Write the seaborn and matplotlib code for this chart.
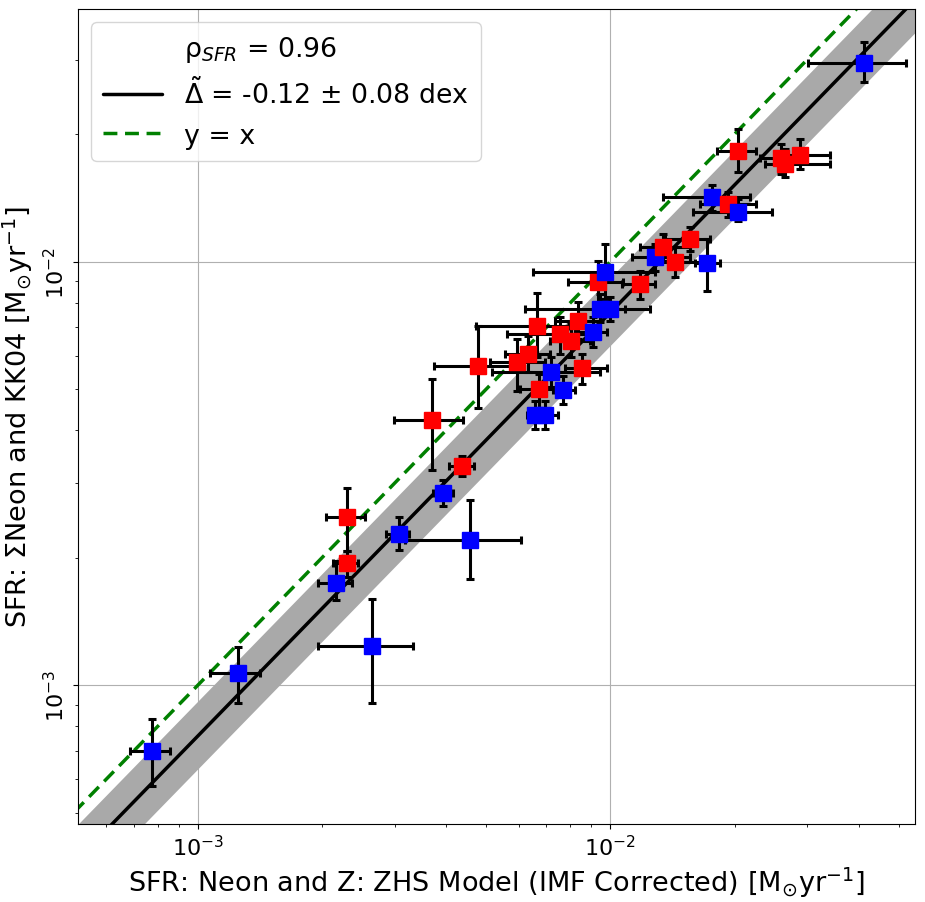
import numpy as np
import pandas as pd
import matplotlib
matplotlib.use("Agg")
import matplotlib.pyplot as plt
import matplotlib.transforms as mtransforms
import seaborn as sns
from matplotlib.lines import Line2D

# ---- data: blue sample ----
blue_x = [7.74e-4, 1.25e-3, 2.64e-3, 2.16e-3, 3.07e-3, 4.56e-3, 3.92e-3, 6.56e-3, 6.93e-3,
          7.66e-3, 7.17e-3, 9.06e-3, 9.42e-3, 9.96e-3, 9.69e-3, 1.28e-2, 1.711e-2, 1.76e-2,
          2.034e-2, 4.11e-2]
blue_xlo = [6.84e-4, 1.069e-3, 1.95e-3, 1.95e-3, 2.85e-3, 3.17e-3, 3.71e-3, 6.27e-3, 6.56e-3,
            7.25e-3, 5.16e-3, 8.19e-3, 6.2e-3, 9.16e-3, 6.48e-3, 1.126e-2, 1.60e-2, 1.339e-2,
            1.583e-2, 3.01e-2]
blue_xhi = [8.56e-4, 1.413e-3, 3.32e-3, 2.36e-3, 3.25e-3, 6.06e-3, 4.15e-3, 7.05e-3, 7.45e-3,
            8.19e-3, 9.42e-3, 9.80e-3, 1.245e-2, 1.083e-2, 1.28e-2, 1.556e-2, 1.84e-2, 2.175e-2,
            2.459e-2, 5.22e-2]
blue_y = [6.98e-4, 1.07e-3, 1.24e-3, 1.74e-3, 2.27e-3, 2.20e-3, 2.84e-3, 4.34e-3, 4.34e-3,
          4.98e-3, 5.49e-3, 6.82e-3, 7.73e-3, 7.73e-3, 9.46e-3, 1.026e-2, 9.93e-3, 1.422e-2,
          1.31e-2, 2.95e-2]
blue_ylo = [5.77e-4, 9.07e-4, 9.07e-4, 1.59e-3, 2.08e-3, 1.78e-3, 2.65e-3, 4.03e-3, 4.03e-3,
            4.61e-3, 5.06e-3, 6.29e-3, 7.20e-3, 7.24e-3, 8.17e-3, 9.51e-3, 8.53e-3, 1.318e-2,
            1.248e-2, 2.66e-2]
blue_yhi = [8.31e-4, 1.23e-3, 1.60e-3, 1.96e-3, 2.49e-3, 2.74e-3, 3.05e-3, 4.69e-3, 4.69e-3,
            5.37e-3, 5.96e-3, 7.40e-3, 8.39e-3, 8.25e-3, 1.101e-2, 1.101e-2, 1.131e-2, 1.518e-2,
            1.406e-2, 3.30e-2]

# ---- data: red sample ----
red_x = [2.30e-3, 2.30e-3, 3.69e-3, 4.36e-3, 4.77e-3, 5.93e-3, 6.31e-3, 6.63e-3, 6.70e-3,
         7.54e-3, 8.01e-3, 8.33e-3, 8.52e-3, 9.32e-3, 1.178e-2, 1.339e-2, 1.431e-2, 1.556e-2,
         1.924e-2, 2.034e-2, 2.585e-2, 2.658e-2, 2.875e-2]
red_xlo = [2.12e-3, 2.04e-3, 2.99e-3, 4.06e-3, 3.73e-3, 5.10e-3, 5.55e-3, 4.72e-3, 6.03e-3,
           5.61e-3, 7.13e-3, 7.33e-3, 7.75e-3, 7.88e-3, 1.065e-2, 1.178e-2, 1.28e-2, 1.354e-2,
           1.645e-2, 1.809e-2, 2.30e-2, 2.365e-2, 2.571e-2]
red_xhi = [2.44e-3, 2.54e-3, 4.39e-3, 4.66e-3, 5.93e-3, 6.93e-3, 7.13e-3, 7.97e-3, 7.54e-3,
           9.16e-3, 8.91e-3, 9.42e-3, 9.80e-3, 1.071e-2, 1.28e-2, 1.556e-2, 1.645e-2, 1.74e-2,
           2.249e-2, 2.249e-2, 2.957e-2, 3.40e-2, 3.40e-2]
red_y = [1.94e-3, 2.49e-3, 4.23e-3, 3.29e-3, 5.67e-3, 5.79e-3, 6.05e-3, 7.05e-3, 5.00e-3,
         6.75e-3, 6.50e-3, 7.24e-3, 5.61e-3, 8.95e-3, 8.86e-3, 1.083e-2, 9.98e-3, 1.131e-2,
         1.368e-2, 1.826e-2, 1.758e-2, 1.701e-2, 1.786e-2]
red_ylo = [1.80e-3, 2.07e-3, 3.22e-3, 3.12e-3, 4.51e-3, 4.95e-3, 5.49e-3, 5.96e-3, 4.49e-3,
           6.05e-3, 5.96e-3, 6.57e-3, 5.14e-3, 7.94e-3, 8.17e-3, 1.004e-2, 9.20e-3, 1.06e-2,
           1.275e-2, 1.629e-2, 1.612e-2, 1.585e-2, 1.656e-2]
red_yhi = [2.07e-3, 2.92e-3, 5.28e-3, 3.48e-3, 7.05e-3, 6.57e-3, 6.68e-3, 8.44e-3, 5.43e-3,
           7.40e-3, 7.13e-3, 8.03e-3, 6.05e-3, 1.004e-2, 9.51e-3, 1.163e-2, 1.083e-2, 1.208e-2,
           1.461e-2, 2.058e-2, 1.897e-2, 1.846e-2, 1.949e-2]

rho_sfr = 0.96
offset_dex = -0.12
scatter_dex = 0.08
x_limits = [5.12e-4, 5.48e-2]
y_limits = [4.70e-4, 3.95e-2]

# ---- build table ----
df = pd.concat([
    pd.DataFrame({"x": blue_x, "xlo": blue_xlo, "xhi": blue_xhi,
                  "y": blue_y, "ylo": blue_ylo, "yhi": blue_yhi, "group": "blue"}),
    pd.DataFrame({"x": red_x, "xlo": red_xlo, "xhi": red_xhi,
                  "y": red_y, "ylo": red_ylo, "yhi": red_yhi, "group": "red"}),
], ignore_index=True)
df = df.sort_values("x", kind="stable").reset_index(drop=True)

sns.set_style("ticks")
plt.rcParams['font.family'] = ['DejaVu Sans']
plt.rcParams['mathtext.fontset'] = 'dejavusans'
for k in ["text.color", "axes.labelcolor", "xtick.color", "ytick.color", "axes.edgecolor"]:
    plt.rcParams[k] = "black"

fig = plt.figure(figsize=(9.25, 9.03), dpi=100)
ax = fig.add_axes([0.0843, 0.0864, 0.9050, 0.9025])
ax.set_xscale("log")
ax.set_yscale("log")

xx = np.logspace(np.log10(x_limits[0]) - 0.2, np.log10(x_limits[1]) + 0.2, 200)
ax.fill_between(xx, xx * 10 ** (offset_dex - scatter_dex), xx * 10 ** (offset_dex + scatter_dex),
                color="#a9a9a9", lw=0, zorder=1)
line_df = pd.DataFrame({"x": xx, "fit": xx * 10 ** offset_dex, "one": xx})
sns.lineplot(data=line_df, x="x", y="fit", color="black", lw=2.5, ax=ax, zorder=2,
             estimator=None, sort=False)
sns.lineplot(data=line_df, x="x", y="one", color="green", lw=2.5, ls=(0, (4, 2.2)), ax=ax,
             zorder=2, estimator=None, sort=False)

colors = {"blue": "blue", "red": "red"}
for i, r in df.iterrows():
    ax.errorbar(r["x"], r["y"],
                xerr=[[r["x"] - r["xlo"]], [r["xhi"] - r["x"]]],
                yerr=[[r["y"] - r["ylo"]], [r["yhi"] - r["y"]]],
                fmt="s", color=colors[r["group"]], ms=11.5, ecolor="black",
                elinewidth=2.2, capsize=3, capthick=2.2, zorder=3 + i * 0.01)

ax.set_xlim(x_limits)
ax.set_ylim(y_limits)
ax.grid(True, which="major", color="#b0b0b0", lw=0.8)
ax.tick_params(axis="both", which="major", labelsize=16, length=3.5, width=0.8)
ax.tick_params(axis="both", which="minor", length=2, width=0.6)
shift = mtransforms.ScaledTranslation(0, -0.10, fig.dpi_scale_trans)
for lab in ax.get_yticklabels():
    lab.set_rotation(90)
    lab.set_va("center")
    lab.set_transform(lab.get_transform() + shift)
for sp in ax.spines.values():
    sp.set_color("black")
    sp.set_linewidth(0.8)

ax.set_xlabel(r"SFR: Neon and Z: ZHS Model (IMF Corrected) [M$_{\odot}$yr$^{-1}$]", fontsize=19.5)
ax.set_ylabel(r"SFR: $\Sigma$Neon and KK04 [M$_{\odot}$yr$^{-1}$]", fontsize=19.5, labelpad=6)

handles = [Line2D([], [], color="none"),
           Line2D([], [], color="black", lw=2.5),
           Line2D([], [], color="green", lw=2.5, ls=(0, (4, 2.2)))]
labels = [r"ρ$_{SFR}$ = %.2f" % rho_sfr,
          r"$\tilde{\Delta}$ = %.2f ± %.2f dex" % (offset_dex, scatter_dex),
          "y = x"]
ax.legend(handles, labels, loc="upper left", fontsize=19.3, frameon=True, framealpha=0.8,
          borderpad=0.45, labelspacing=0.5, handlelength=2.2)

fig.savefig("out.png", dpi=100)
